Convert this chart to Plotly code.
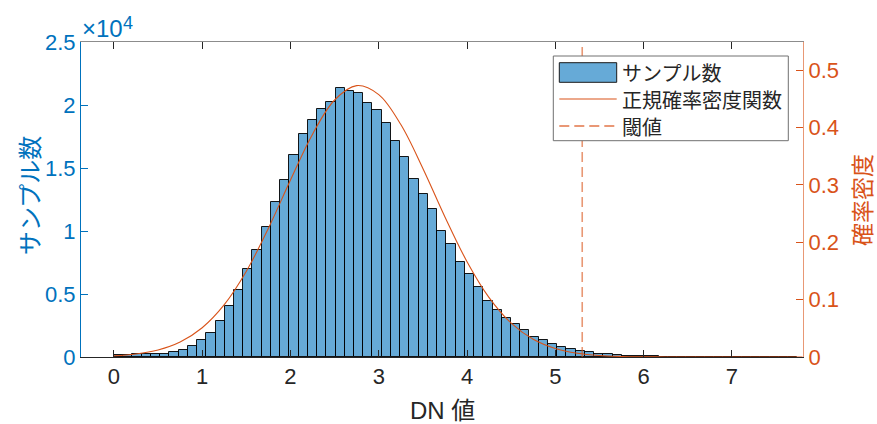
import plotly.graph_objects as go

# ---------------- data ----------------
bin_start = 0.0
bin_width = 0.1046
counts = [160, 170, 200, 210, 210, 220, 360, 530, 860, 1350,
          1940, 2880, 4075, 5320, 6959, 8467, 10293, 12330, 14024, 16061,
          17675, 18787, 19686, 20242, 21380, 21089, 20956, 20163, 19633, 18602,
          17120, 15876, 14156, 12965, 11748, 10028, 8943, 7568, 6615, 5583,
          4472, 3757, 3122, 2620, 2170, 1561, 1323, 1058, 794, 660,
          480, 390, 265, 212, 160, 110, 80, 60, 45, 40,
          35, 30, 28, 25, 22, 20, 18, 16, 14, 12,
          10, 8, 6, 5]

pdf_x = [0.0, 0.25, 0.5, 0.75, 1.0, 1.25, 1.5, 1.75, 2.0, 2.25, 2.5, 2.75,
         3.0, 3.25, 3.5, 3.75, 4.0, 4.25, 4.5, 4.75, 5.0, 5.25, 5.5, 5.75,
         6.0, 6.25, 6.5, 6.75, 7.0, 7.25, 7.5, 7.8]
pdf_y = [0.00206, 0.00524, 0.01221, 0.02607, 0.05097, 0.09116, 0.1494, 0.2243,
         0.3085, 0.3884, 0.4479, 0.4730, 0.4574, 0.4052, 0.3287, 0.2441,
         0.1661, 0.1035, 0.05906, 0.03086, 0.01476, 0.00647, 0.00260, 0.000956,
         0.000321, 0.000099, 0.000028, 0.000007, 0.000002, 0.0, 0.0, 0.0]

threshold = 5.305

x_ticks = [0, 1, 2, 3, 4, 5, 6, 7]
y_left_ticks = [0, 5000, 10000, 15000, 20000, 25000]
y_left_labels = ["0", "0.5", "1", "1.5", "2", "2.5"]
y_right_ticks = [0, 0.1, 0.2, 0.3, 0.4, 0.5]
y_right_labels = ["0", "0.1", "0.2", "0.3", "0.4", "0.5"]

legend_labels = ["サンプル数", "正規確率密度関数", "閾値"]
x_title = "DN 値"
y_left_title = "サンプル数"
y_right_title = "確率密度"

# ---------------- styling ----------------
BLUE = "#0072BD"
ORANGE = "#D95319"
DARK = "#262626"
BAR_FILL = "rgba(0,114,189,0.6)"
FONT = "Liberation Sans, Arial, Noto Sans CJK JP, sans-serif"
CJK = "Noto Sans CJK JP, Liberation Sans, sans-serif"

XR = [-0.373, 7.806]
YR2 = [0, 0.549]

centers = [bin_start + bin_width * (i + 0.5) for i in range(len(counts))]

fig = go.Figure()
fig.add_trace(go.Bar(
    x=centers, y=counts, width=bin_width,
    marker=dict(color=BAR_FILL, line=dict(color="rgba(0,0,0,0.9)", width=1)),
    xaxis="x", yaxis="y", showlegend=False, hoverinfo="skip"))
fig.add_trace(go.Scatter(
    x=pdf_x, y=pdf_y, mode="lines", line=dict(color=ORANGE, width=1.1, shape="spline"),
    xaxis="x", yaxis="y2", showlegend=False))
fig.add_trace(go.Scatter(
    x=[threshold, threshold], y=YR2, mode="lines",
    line=dict(color="rgba(217,83,25,0.6)", width=1.6, dash="10px,5px"),
    xaxis="x", yaxis="y2", showlegend=False))
# invisible trace so the top (box) axis is drawn
fig.add_trace(go.Scatter(x=[XR[0]], y=[0], mode="markers", marker=dict(opacity=0, size=1),
                         xaxis="x2", yaxis="y", showlegend=False, hoverinfo="skip"))

# ---------------- manual legend & titles ----------------
L, B, PW, PH = 81, 67, 722, 315
def px(v):
    return (v - L) / PW
def py(v):
    return (424 - B - v) / PH

shapes = [
    dict(type="rect", xref="paper", yref="paper", x0=px(553.3), x1=px(788.3),
         y0=py(140.7), y1=py(56), fillcolor="white", line=dict(color="#707070", width=1),
         layer="above"),
    dict(type="rect", xref="paper", yref="paper", x0=px(559.3), x1=px(616.7),
         y0=py(82.3), y1=py(62.7), fillcolor=BAR_FILL, line=dict(color="#1a1a1a", width=1),
         layer="above"),
    dict(type="line", xref="paper", yref="paper", x0=px(559.3), x1=px(616.7),
         y0=py(99), y1=py(99), line=dict(color=ORANGE, width=1.1), layer="above"),
    dict(type="line", xref="paper", yref="paper", x0=px(559.3), x1=px(616.7),
         y0=py(126), y1=py(126), line=dict(color="rgba(217,83,25,0.8)", width=1.3, dash="10px,5px"),
         layer="above"),
]
annotations = []
for label, yy in zip(legend_labels, [72.5, 99, 126]):
    annotations.append(dict(text=label, xref="paper", yref="paper", x=px(620), y=py(yy),
                            xanchor="left", yanchor="middle", showarrow=False,
                            font=dict(family=CJK, size=20, color=DARK)))
# exponent label  ×10^4
annotations.append(dict(text="×10", xref="paper", yref="paper", x=px(80), y=py(29),
                        xanchor="left", yanchor="middle", showarrow=False,
                        font=dict(family=FONT, size=24, color=BLUE)))
annotations.append(dict(text="4", xref="paper", yref="paper", x=px(121), y=py(23),
                        xanchor="left", yanchor="middle", showarrow=False,
                        font=dict(family=FONT, size=18, color=BLUE)))
# axis titles
annotations.append(dict(text=x_title, xref="paper", yref="paper", x=px(442), y=py(410),
                        xanchor="center", yanchor="middle", showarrow=False,
                        font=dict(family=FONT, size=24, color=DARK)))
annotations.append(dict(text=y_left_title, xref="paper", yref="paper", x=px(28), y=py(195),
                        xanchor="center", yanchor="middle", showarrow=False, textangle=-90,
                        font=dict(family=CJK, size=24, color=BLUE)))
annotations.append(dict(text=y_right_title, xref="paper", yref="paper", x=px(861), y=py(200),
                        xanchor="center", yanchor="middle", showarrow=False, textangle=-90,
                        font=dict(family=CJK, size=23, color=ORANGE)))

fig.update_layout(
    width=877, height=424,
    margin=dict(l=L, r=74, t=42, b=B),
    paper_bgcolor="white", plot_bgcolor="white",
    bargap=0, showlegend=False,
    font=dict(family=FONT, size=22, color=DARK),
    shapes=shapes, annotations=annotations,
    xaxis=dict(range=XR, tickvals=x_ticks, ticks="inside", ticklen=7, tickcolor=DARK,
               showline=True, linecolor=DARK, linewidth=1, showgrid=False, zeroline=False,
               automargin=False, tickfont=dict(size=22, color=DARK, family=FONT)),
    xaxis2=dict(range=XR, overlaying="x", side="top", anchor="y", tickvals=x_ticks,
                ticks="inside", ticklen=7, tickcolor=DARK, showline=True, linecolor="#8c8c8c",
                linewidth=1, showgrid=False, zeroline=False, showticklabels=False,
                automargin=False),
    yaxis=dict(range=[0, 25000], tickvals=y_left_ticks, ticktext=y_left_labels,
               ticks="inside", ticklen=7, tickcolor=BLUE, showline=True, linecolor=BLUE,
               linewidth=1, showgrid=False, zeroline=False, automargin=False,
               tickfont=dict(size=22, color=BLUE, family=FONT)),
    yaxis2=dict(range=YR2, overlaying="y", side="right", anchor="x", tickvals=y_right_ticks,
                ticktext=y_right_labels, ticks="inside", ticklen=7, tickcolor=ORANGE,
                showline=True, linecolor="rgba(217,83,25,0.6)", linewidth=1.2,
                showgrid=False, zeroline=False, automargin=False,
                tickfont=dict(size=22, color=ORANGE, family=FONT)),
)

fig.write_html("out.html")
